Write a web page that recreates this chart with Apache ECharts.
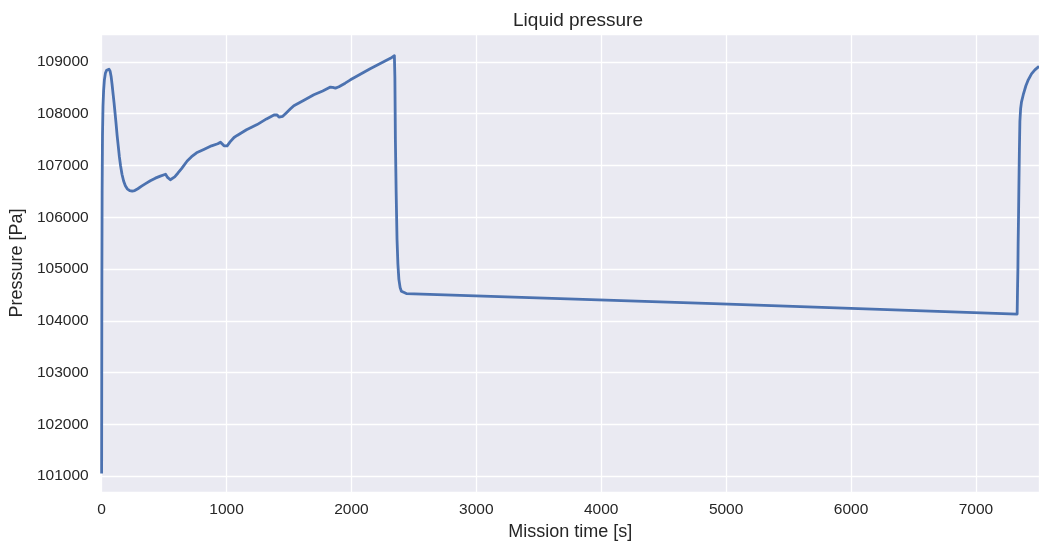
<!DOCTYPE html>
<html>
<head>
<meta charset="utf-8">
<script src="https://cdn.jsdelivr.net/npm/echarts@6/dist/echarts.min.js"></script>
<style>
html,body{margin:0;padding:0;background:#fff;}
#c{width:1039px;height:546px;}
</style>
</head>
<body>
<div id="c"></div>
<script>
const titleText = "Liquid pressure";
const xName = "Mission time [s]";
const yName = "Pressure [Pa]";

const time = [0, 1, 2, 4, 7, 11, 16, 22, 30, 40, 50, 59, 68, 76, 84, 92, 100, 108, 116, 124, 133, 142, 152, 163, 176, 190, 205, 225, 245, 265, 290, 320, 352, 390, 430, 470, 512, 520, 528, 536, 550, 565, 585, 610, 640, 685, 720, 760, 818, 880, 930, 952, 965, 980, 992, 1005, 1030, 1060, 1085, 1160, 1245, 1320, 1380, 1392, 1405, 1420, 1432, 1450, 1480, 1510, 1539, 1620, 1699, 1770, 1832, 1850, 1872, 1900, 1950, 1992, 2150, 2312, 2344, 2348, 2352, 2358, 2365, 2372, 2380, 2390, 2400, 2413, 2440, 4900, 7330, 7333, 7336, 7338, 7341, 7344, 7348, 7352, 7358, 7365, 7379, 7400, 7419, 7445, 7472, 7505];
const pressure = [101050, 103000, 104800, 106500, 107600, 108150, 108450, 108650, 108780, 108840, 108860, 108860, 108820, 108720, 108560, 108380, 108200, 108000, 107800, 107580, 107380, 107170, 106990, 106830, 106700, 106610, 106550, 106515, 106505, 106515, 106550, 106600, 106650, 106705, 106755, 106795, 106830, 106820, 106770, 106735, 106725, 106740, 106780, 106850, 106940, 107087, 107170, 107245, 107310, 107380, 107420, 107450, 107430, 107380, 107363, 107380, 107460, 107540, 107580, 107690, 107790, 107900, 107975, 107995, 107975, 107935, 107920, 107950, 108020, 108090, 108155, 108260, 108365, 108440, 108514, 108510, 108495, 108520, 108590, 108655, 108870, 109070, 109120, 108700, 107500, 106500, 105580, 105100, 104800, 104640, 104570, 104535, 104525, 104330, 104130, 104600, 105000, 105500, 106000, 106580, 107300, 107855, 108100, 108230, 108367, 108540, 108655, 108770, 108846, 108915];

const xTicks = [0, 1000, 2000, 3000, 4000, 5000, 6000, 7000];
const yTicks = [101000, 102000, 103000, 104000, 105000, 106000, 107000, 108000, 109000];

const seriesData = time.map((t, i) => [t, pressure[i]]);

const chart = echarts.init(document.getElementById('c'), null, {renderer: 'canvas'});
const font = "'Liberation Sans', Arial, sans-serif";
chart.setOption({
  animation: false,
  backgroundColor: '#ffffff',
  title: {
    text: titleText,
    left: 573, top: 6, textAlign: 'center',
    textStyle: {fontFamily: font, fontSize: 19, fontWeight: 'normal', color: '#262626'}
  },
  grid: {left: 101, right: 0, top: 34, bottom: 51, show: true, backgroundColor: '#eaeaf2', borderWidth: 0},
  xAxis: {
    type: 'value', min: 0, max: 7505, interval: 1000,
    name: xName, nameLocation: 'middle', nameGap: 29,
    nameTextStyle: {fontFamily: font, fontSize: 18, color: '#262626'},
    axisLine: {show: false}, axisTick: {show: false},
    axisLabel: {fontFamily: font, fontSize: 15.5, color: '#262626', margin: 10, showMaxLabel: false,
      formatter: v => xTicks.includes(v) ? String(v) : ''},
    splitLine: {show: true, lineStyle: {color: '#ffffff', width: 1.3}}
  },
  yAxis: {
    type: 'value', min: 100690, max: 109540, splitNumber: 9,
    name: yName, nameLocation: 'middle', nameGap: 75,
    nameTextStyle: {fontFamily: font, fontSize: 18, color: '#262626'},
    axisLine: {show: false}, axisTick: {show: false},
    axisLabel: {fontFamily: font, fontSize: 15.5, color: '#262626', margin: 13, showMinLabel: false, showMaxLabel: false,
      formatter: v => yTicks.includes(v) ? String(v) : ''},
    splitLine: {show: true, lineStyle: {color: '#ffffff', width: 1.3}}
  },
  series: [{
    type: 'line', data: seriesData, showSymbol: false, symbol: 'none',
    smooth: false,
    lineStyle: {color: '#4c72b0', width: 2.8, join: 'round'},
    clip: true
  }]
});
</script>
</body>
</html>
